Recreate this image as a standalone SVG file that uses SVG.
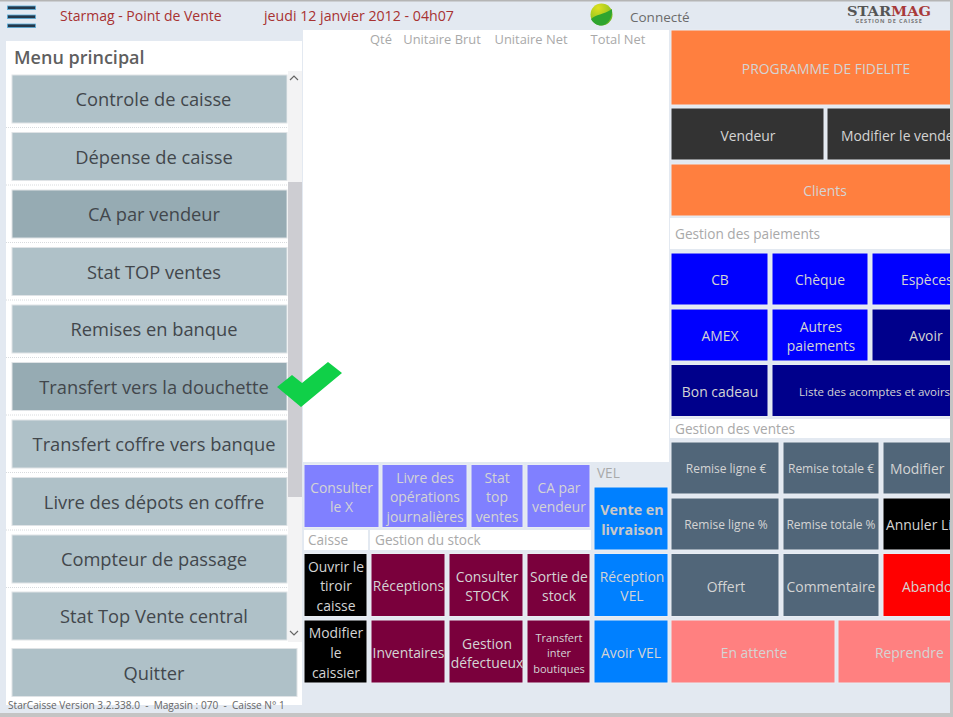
<svg xmlns="http://www.w3.org/2000/svg" width="953" height="717" viewBox="0 0 953 717">
<style>
text{font-family:"Open Sans","Noto Sans","Liberation Sans",sans-serif;text-anchor:middle}
.m rect{fill:#afc1c8;stroke:#dfe3e6;stroke-width:1}
.m.h rect{fill:#96abb3}
.m text{font-size:18.3px;fill:#42474c}
.b rect{stroke:#e9edf3;stroke-width:1}
.b text{font-size:13.9px;fill:#d4d4d4}
.s text{font-size:12px}
.t text{font-size:11px}
.lab{font-size:13.6px;fill:#a9a9a9;text-anchor:start}
.hd{font-size:12.9px;fill:#a9a9a9}
.top{font-size:14px;fill:#a83232;text-anchor:start}
.p{fill:#8080ff}.w{fill:#7a003c}.k{fill:#000}.v{fill:#0080ff}.o{fill:#ff7f3f}.d{fill:#333}.bl{fill:#00f}.n{fill:#00008b}.g{fill:#516679}.r{fill:#f00}.pk{fill:#ff8080}
.sep{stroke:#d8dbde;stroke-width:1;stroke-dasharray:1 1}
</style>
<defs>
<radialGradient id="led" cx="0.35" cy="0.2" r="0.9"><stop offset="0" stop-color="#e0e020"/><stop offset="0.5" stop-color="#a8cc20"/><stop offset="1" stop-color="#5fb020"/></radialGradient>
</defs>
<rect width="953" height="717" fill="#e3e9f1"/>
<rect width="953" height="1.5" fill="#b5b5b5"/>
<rect x="950" width="3" height="717" fill="#c4c4c4"/>
<rect y="713" width="953" height="4" fill="#c4c4c4"/>
<g id="header">
<g fill="#25384a" stroke="#5cb0dc" stroke-width="0.8"><rect x="7.500" y="6" width="28" height="3.600"/><rect x="7.500" y="15" width="28" height="3.600"/><rect x="7.500" y="24" width="28" height="3.600"/></g>
<text class="top" x="60" y="21">Starmag - Point de Vente</text>
<text class="top" x="264" y="21" style="font-size:14.200px">jeudi 12 janvier 2012 - 04h07</text>
<circle cx="601.500" cy="14.500" r="11" fill="url(#led)"/>
<path d="M591 19C596 14 603 15 612 9C613 18 607 25.500 601 25.500C597 25.500 593 23 591 19Z" fill="#2fa52f"/>
<text x="630" y="22" style="font-size:13.500px;fill:#6b6b6b;text-anchor:start">Connecté</text>
<text x="847" y="16" style="font-family:'DejaVu Serif','Liberation Serif',serif;font-size:13.500px;font-weight:bold;text-anchor:start" textLength="84" lengthAdjust="spacingAndGlyphs"><tspan fill="#555">STAR</tspan><tspan fill="#a83a3a">MAG</tspan></text>
<text x="889" y="22.500" style="font-size:5.500px;font-weight:bold;fill:#777;letter-spacing:.9px">GESTION DE CAISSE</text>
</g>
<g id="panel-left">
<rect x="6" y="41" width="296" height="664" fill="#fff"/>
<text x="14" y="64" style="font-size:18px;font-weight:600;fill:#5f5f5f;text-anchor:start">Menu principal</text>
<rect x="288" y="71" width="14" height="571" fill="#f3f3f4"/>
<rect x="288" y="182" width="14" height="315" fill="#cdcdd2"/>
<path d="M290 80l4-4 4 4M290 631l4 4 4-4" fill="none" stroke="#666" stroke-width="1.200"/>
<g class="sep"><path d="M6 127.500H287M6 185H287M6 242.500H287M6 300H287M6 357.500H287M6 415H287M6 472.500H287M6 530H287M6 587.500H287"/></g>
<text x="8" y="709" style="font-size:10.100px;fill:#666;text-anchor:start;white-space:pre">StarCaisse Version 3.2.338.0  -  Magasin : 070  -  Caisse N° 1</text>
</g>
<rect x="303" y="30" width="366" height="432" fill="#fff"/>
<g id="columns" class="hd">
<text class="hd" x="381" y="44">Qté</text><text class="hd" x="442" y="44">Unitaire Brut</text><text class="hd" x="531" y="44">Unitaire Net</text><text class="hd" x="618" y="44">Total Net</text>
</g>
<g id="m1" class="m"><rect x="12" y="75" width="275" height="48"/><text x="153.500" y="106">Controle de caisse</text></g>
<g id="m2" class="m"><rect x="12" y="132.500" width="275" height="48"/><text x="154" y="164">Dépense de caisse</text></g>
<g id="m3" class="m h"><rect x="12" y="190" width="275" height="48"/><text x="154" y="221">CA par vendeur</text></g>
<g id="m4" class="m"><rect x="12" y="247.500" width="275" height="48"/><text x="154" y="279">Stat TOP ventes</text></g>
<g id="m5" class="m"><rect x="12" y="305" width="275" height="48"/><text x="154" y="336">Remises en banque</text></g>
<g id="m6" class="m h"><rect x="12" y="362.500" width="275" height="48"/><text x="154" y="394">Transfert vers la douchette</text></g>
<g id="m7" class="m"><rect x="12" y="420" width="275" height="48"/><text x="154" y="451">Transfert coffre vers banque</text></g>
<g id="m8" class="m"><rect x="12" y="477.500" width="275" height="48"/><text x="154" y="509">Livre des dépots en coffre</text></g>
<g id="m9" class="m"><rect x="12" y="535" width="275" height="48"/><text x="154" y="566">Compteur de passage</text></g>
<g id="m10" class="m"><rect x="12" y="592" width="275" height="48"/><text x="154" y="623">Stat Top Vente central</text></g>
<g id="m11" class="m"><rect x="12" y="648.500" width="285" height="48"/><text x="154" y="680">Quitter</text></g>
<polygon id="check" points="277,387 292,375 302,383 328,362 342,373 301,407" fill="#10d048"/>
<g id="labels">
<rect x="304" y="530" width="64" height="20" fill="#fff"/><text class="lab" x="308" y="545">Caisse</text>
<rect x="370" y="530" width="221" height="20" fill="#fff"/><text class="lab" x="375" y="545">Gestion du stock</text>
<text class="lab" x="597" y="478">VEL</text>
<rect x="670" y="218" width="280" height="31" fill="#fff"/><text class="lab" x="675" y="239">Gestion des paiements</text>
<rect x="670" y="419" width="280" height="19" fill="#fff"/><text class="lab" x="675" y="434">Gestion des ventes</text>
</g>
<g id="b1" class="b"><rect class="p" x="304" y="464.500" width="75" height="63"/><text x="341.500" y="493">Consulter</text><text x="341.500" y="512">le X</text></g>
<g id="b2" class="b"><rect class="p" x="382" y="464.500" width="85" height="63"/><text x="425" y="483">Livre des</text><text x="425" y="502">opérations</text><text x="425" y="522">journalières</text></g>
<g id="b3" class="b"><rect class="p" x="471" y="464.500" width="52" height="63"/><text x="497" y="483">Stat</text><text x="497" y="502">top</text><text x="497" y="522">ventes</text></g>
<g id="b4" class="b"><rect class="p" x="527" y="464.500" width="63" height="63"/><text x="559" y="493">CA par</text><text x="559" y="512">vendeur</text></g>
<g id="b5" class="b"><rect class="k" x="304" y="553.500" width="63" height="63"/><text x="336" y="572">Ouvrir le</text><text x="336" y="591">tiroir</text><text x="336" y="611">caisse</text></g>
<g id="b6" class="b"><rect class="w" x="371" y="553.500" width="74" height="63"/><text x="408.500" y="591">Réceptions</text></g>
<g id="b7" class="b"><rect class="w" x="449" y="553.500" width="74" height="63"/><text x="487" y="582">Consulter</text><text x="487" y="601">STOCK</text></g>
<g id="b8" class="b"><rect class="w" x="527" y="553.500" width="63" height="63"/><text x="559" y="582">Sortie de</text><text x="559" y="601">stock</text></g>
<g id="b9" class="b"><rect class="k" x="304" y="620" width="63" height="63"/><text x="336" y="638">Modifier</text><text x="336" y="658">le</text><text x="336" y="678">caissier</text></g>
<g id="b10" class="b"><rect class="w" x="371" y="620" width="74" height="63"/><text x="408.500" y="658">Inventaires</text></g>
<g id="b11" class="b"><rect class="w" x="449" y="620" width="74" height="63"/><text x="487" y="649">Gestion</text><text x="487" y="668">défectueux</text></g>
<g id="b12" class="b t"><rect class="w" x="527" y="620" width="63" height="63"/><text x="559" y="642">Transfert</text><text x="559" y="657">inter</text><text x="559" y="673">boutiques</text></g>
<g id="b13" class="b"><rect class="v" x="594" y="487" width="74" height="63"/><text x="632" y="515" style="font-weight:bold;font-size:14.300px;fill:#c8c8c8">Vente en</text><text x="632" y="535" style="font-weight:bold;font-size:14.300px;fill:#c8c8c8">livraison</text></g>
<g id="b14" class="b"><rect class="v" x="594" y="553.500" width="74" height="63"/><text x="632" y="582">Réception</text><text x="632" y="601">VEL</text></g>
<g id="b15" class="b"><rect class="v" x="594" y="620" width="74" height="63"/><text x="631" y="658">Avoir VEL</text></g>
<svg x="0" y="0" width="950" height="717" viewBox="0 0 950 717">
<g id="r1" class="b"><rect class="o" x="671" y="30" width="300" height="75"/><text x="826" y="74">PROGRAMME DE FIDELITE</text></g>
<g id="r2" class="b"><rect class="d" x="671" y="108" width="153" height="52"/><text x="748" y="141">Vendeur</text></g>
<g id="r3" class="b"><rect class="d" x="827" y="108" width="140" height="52"/><text x="841" y="141" style="text-anchor:start">Modifier le vendeur</text></g>
<g id="r4" class="b"><rect class="o" x="671" y="164" width="300" height="52"/><text x="825" y="196">Clients</text></g>
<g id="r5" class="b"><rect class="bl" x="671" y="253" width="97" height="52"/><text x="720" y="285">CB</text></g>
<g id="r6" class="b"><rect class="bl" x="772" y="253" width="96" height="52"/><text x="820" y="285">Chèque</text></g>
<g id="r7" class="b"><rect class="bl" x="872" y="253" width="96" height="52"/><text x="901" y="285" style="text-anchor:start">Espèces</text></g>
<g id="r8" class="b"><rect class="bl" x="671" y="309" width="97" height="52"/><text x="720" y="341">AMEX</text></g>
<g id="r9" class="b"><rect class="bl" x="772" y="309" width="96" height="52"/><text x="821" y="332">Autres</text><text x="821" y="351">paiements</text></g>
<g id="r10" class="b"><rect class="n" x="872" y="309" width="96" height="52"/><text x="926" y="341">Avoir</text></g>
<g id="r11" class="b"><rect class="n" x="671" y="364.500" width="97" height="52"/><text x="720" y="397">Bon cadeau</text></g>
<g id="r12" class="b s"><rect class="n" x="772" y="364.500" width="196" height="52"/><text x="799" y="396" style="text-anchor:start;font-size:11.500px">Liste des acomptes et avoirs</text></g>
<g id="r13" class="b s"><rect class="g" x="671" y="442" width="108" height="52"/><text x="726" y="473">Remise ligne €</text></g>
<g id="r14" class="b s"><rect class="g" x="783" y="442" width="96" height="52"/><text x="831" y="473">Remise totale €</text></g>
<g id="r15" class="b"><rect class="g" x="883" y="442" width="90" height="52"/><text x="890" y="474" style="text-anchor:start">Modifier</text></g>
<g id="r16" class="b s"><rect class="g" x="671" y="498" width="108" height="52"/><text x="726" y="529">Remise ligne %</text></g>
<g id="r17" class="b s"><rect class="g" x="783" y="498" width="96" height="52"/><text x="831" y="529">Remise totale %</text></g>
<g id="r18" class="b"><rect class="k" x="883" y="498" width="90" height="52"/><text x="886" y="530" style="text-anchor:start">Annuler Ligne</text></g>
<g id="r19" class="b"><rect class="g" x="671" y="553.500" width="108" height="63"/><text x="726" y="592">Offert</text></g>
<g id="r20" class="b"><rect class="g" x="783" y="553.500" width="96" height="63"/><text x="831" y="592">Commentaire</text></g>
<g id="r21" class="b"><rect class="r" x="883" y="553.500" width="90" height="63"/><text x="902" y="592" style="text-anchor:start">Abandon</text></g>
<g id="r22" class="b"><rect class="pk" x="671" y="620" width="164" height="63"/><text x="754" y="658">En attente</text></g>
<g id="r23" class="b"><rect class="pk" x="838" y="620" width="140" height="63"/><text x="875" y="658" style="text-anchor:start">Reprendre</text></g>
</svg>
</svg>
